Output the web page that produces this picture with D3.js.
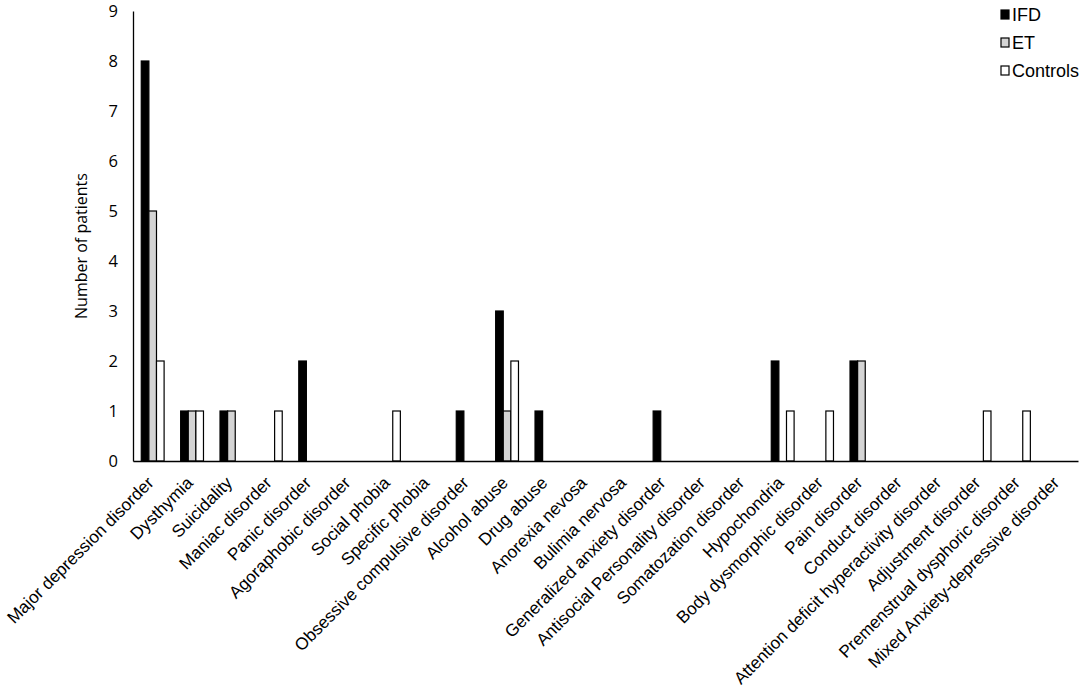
<!DOCTYPE html>
<html>
<head>
<meta charset="utf-8">
<script src="https://cdn.jsdelivr.net/npm/d3@7"></script>
<style>
  body { margin: 0; background: #fff; }
  svg { display: block; }
</style>
</head>
<body>
<svg id="chart" width="1084" height="692"></svg>
<script>
// categories and values
const disorders = [
  "Major depression disorder", "Dysthymia", "Suicidality", "Maniac disorder",
  "Panic disorder", "Agoraphobic disorder", "Social phobia", "Specific phobia",
  "Obsessive compulsive disorder", "Alcohol abuse", "Drug abuse", "Anorexia nevosa",
  "Bulimia nervosa", "Generalized anxiety disorder", "Antisocial Personality disorder",
  "Somatozation disorder", "Hypochondria", "Body dysmorphic disorder", "Pain disorder",
  "Conduct disorder", "Attention deficit hyperactivity disorder", "Adjustment disorder",
  "Premenstrual dysphoric disorder", "Mixed Anxiety-depressive disorder"
];
const groups = ["IFD", "ET", "Controls"];
const ifd      = [8, 1, 1, 0, 2, 0, 0, 0, 1, 3, 1, 0, 0, 1, 0, 0, 2, 0, 2, 0, 0, 0, 0, 0];
const et       = [5, 1, 1, 0, 0, 0, 0, 0, 0, 1, 0, 0, 0, 0, 0, 0, 0, 0, 2, 0, 0, 0, 0, 0];
const controls = [2, 1, 0, 1, 0, 0, 1, 0, 0, 2, 0, 0, 0, 0, 0, 0, 1, 1, 0, 0, 0, 1, 1, 0];
const yTicks = [0, 1, 2, 3, 4, 5, 6, 7, 8, 9];

const fills = { IFD: "#000000", ET: "#d4d4d4", Controls: "#ffffff" };
const seriesValues = { IFD: ifd, ET: et, Controls: controls };

const cfg = { left: 133, right: 1078, top: 11, bottom: 461 };

const svg = d3.select("#chart");

const x0 = d3.scaleBand()
    .domain(disorders)
    .range([cfg.left, cfg.right])
    .padding(0);

const bw = x0.bandwidth();
const x1 = d3.scaleBand()
    .domain(groups)
    .range([bw * 0.21, bw * 0.79])
    .padding(0);

const y = d3.scaleLinear()
    .domain([0, 9])
    .range([cfg.bottom, cfg.top]);

// bars
const rows = [];
disorders.forEach((d, i) => {
  groups.forEach(g => {
    rows.push({ disorder: d, group: g, value: seriesValues[g][i] });
  });
});

svg.append("g")
  .selectAll("rect")
  .data(rows.filter(r => r.value > 0))
  .join("rect")
    .attr("x", d => x0(d.disorder) + x1(d.group))
    .attr("y", d => y(d.value))
    .attr("width", x1.bandwidth())
    .attr("height", d => y(0) - y(d.value))
    .attr("fill", d => fills[d.group])
    .attr("stroke", "#000")
    .attr("stroke-width", 1.2);

// y axis
const yAxis = svg.append("g")
    .attr("transform", `translate(${cfg.left},0)`)
    .call(d3.axisLeft(y).tickValues(yTicks).tickSize(0).tickPadding(15).tickFormat(d3.format("d")));
yAxis.select(".domain").attr("stroke", "#000").attr("stroke-width", 1.3);
yAxis.selectAll("text")
    .style("font-family", "'Open Sans', sans-serif")
    .style("font-size", "16.5px")
    .attr("fill", "#000");

// x axis
const xAxis = svg.append("g")
    .attr("transform", `translate(0,${cfg.bottom})`)
    .call(d3.axisBottom(x0).tickSize(0).tickFormat(""));
xAxis.select(".domain").attr("stroke", "#000").attr("stroke-width", 1.3);

svg.append("g")
  .selectAll("text")
  .data(disorders)
  .join("text")
    .attr("transform", d => `translate(${x0(d) + bw / 2 + 2},${cfg.bottom + 23}) rotate(-45)`)
    .attr("text-anchor", "end")
    .style("font-family", "'Liberation Sans', Arial, sans-serif")
    .style("font-size", "17.2px")
    .text(d => d);

// y title
svg.append("text")
    .attr("transform", `translate(87,${(cfg.top + cfg.bottom) / 2 + 10}) rotate(-90)`)
    .attr("text-anchor", "middle")
    .style("font-family", "'Open Sans', sans-serif")
    .style("font-size", "16px")
    .text("Number of patients");

// legend
const legend = svg.append("g")
    .selectAll("g")
    .data(groups)
    .join("g")
    .attr("transform", (d, i) => `translate(1001,${10 + i * 28})`);

legend.append("rect")
    .attr("width", 8)
    .attr("height", 9)
    .attr("fill", d => fills[d])
    .attr("stroke", "#000")
    .attr("stroke-width", 1.2);

legend.append("text")
    .attr("x", 11)
    .attr("y", 11)
    .style("font-family", "'Liberation Sans', Arial, sans-serif")
    .style("font-size", "18px")
    .text(d => d);
</script>
</body>
</html>
